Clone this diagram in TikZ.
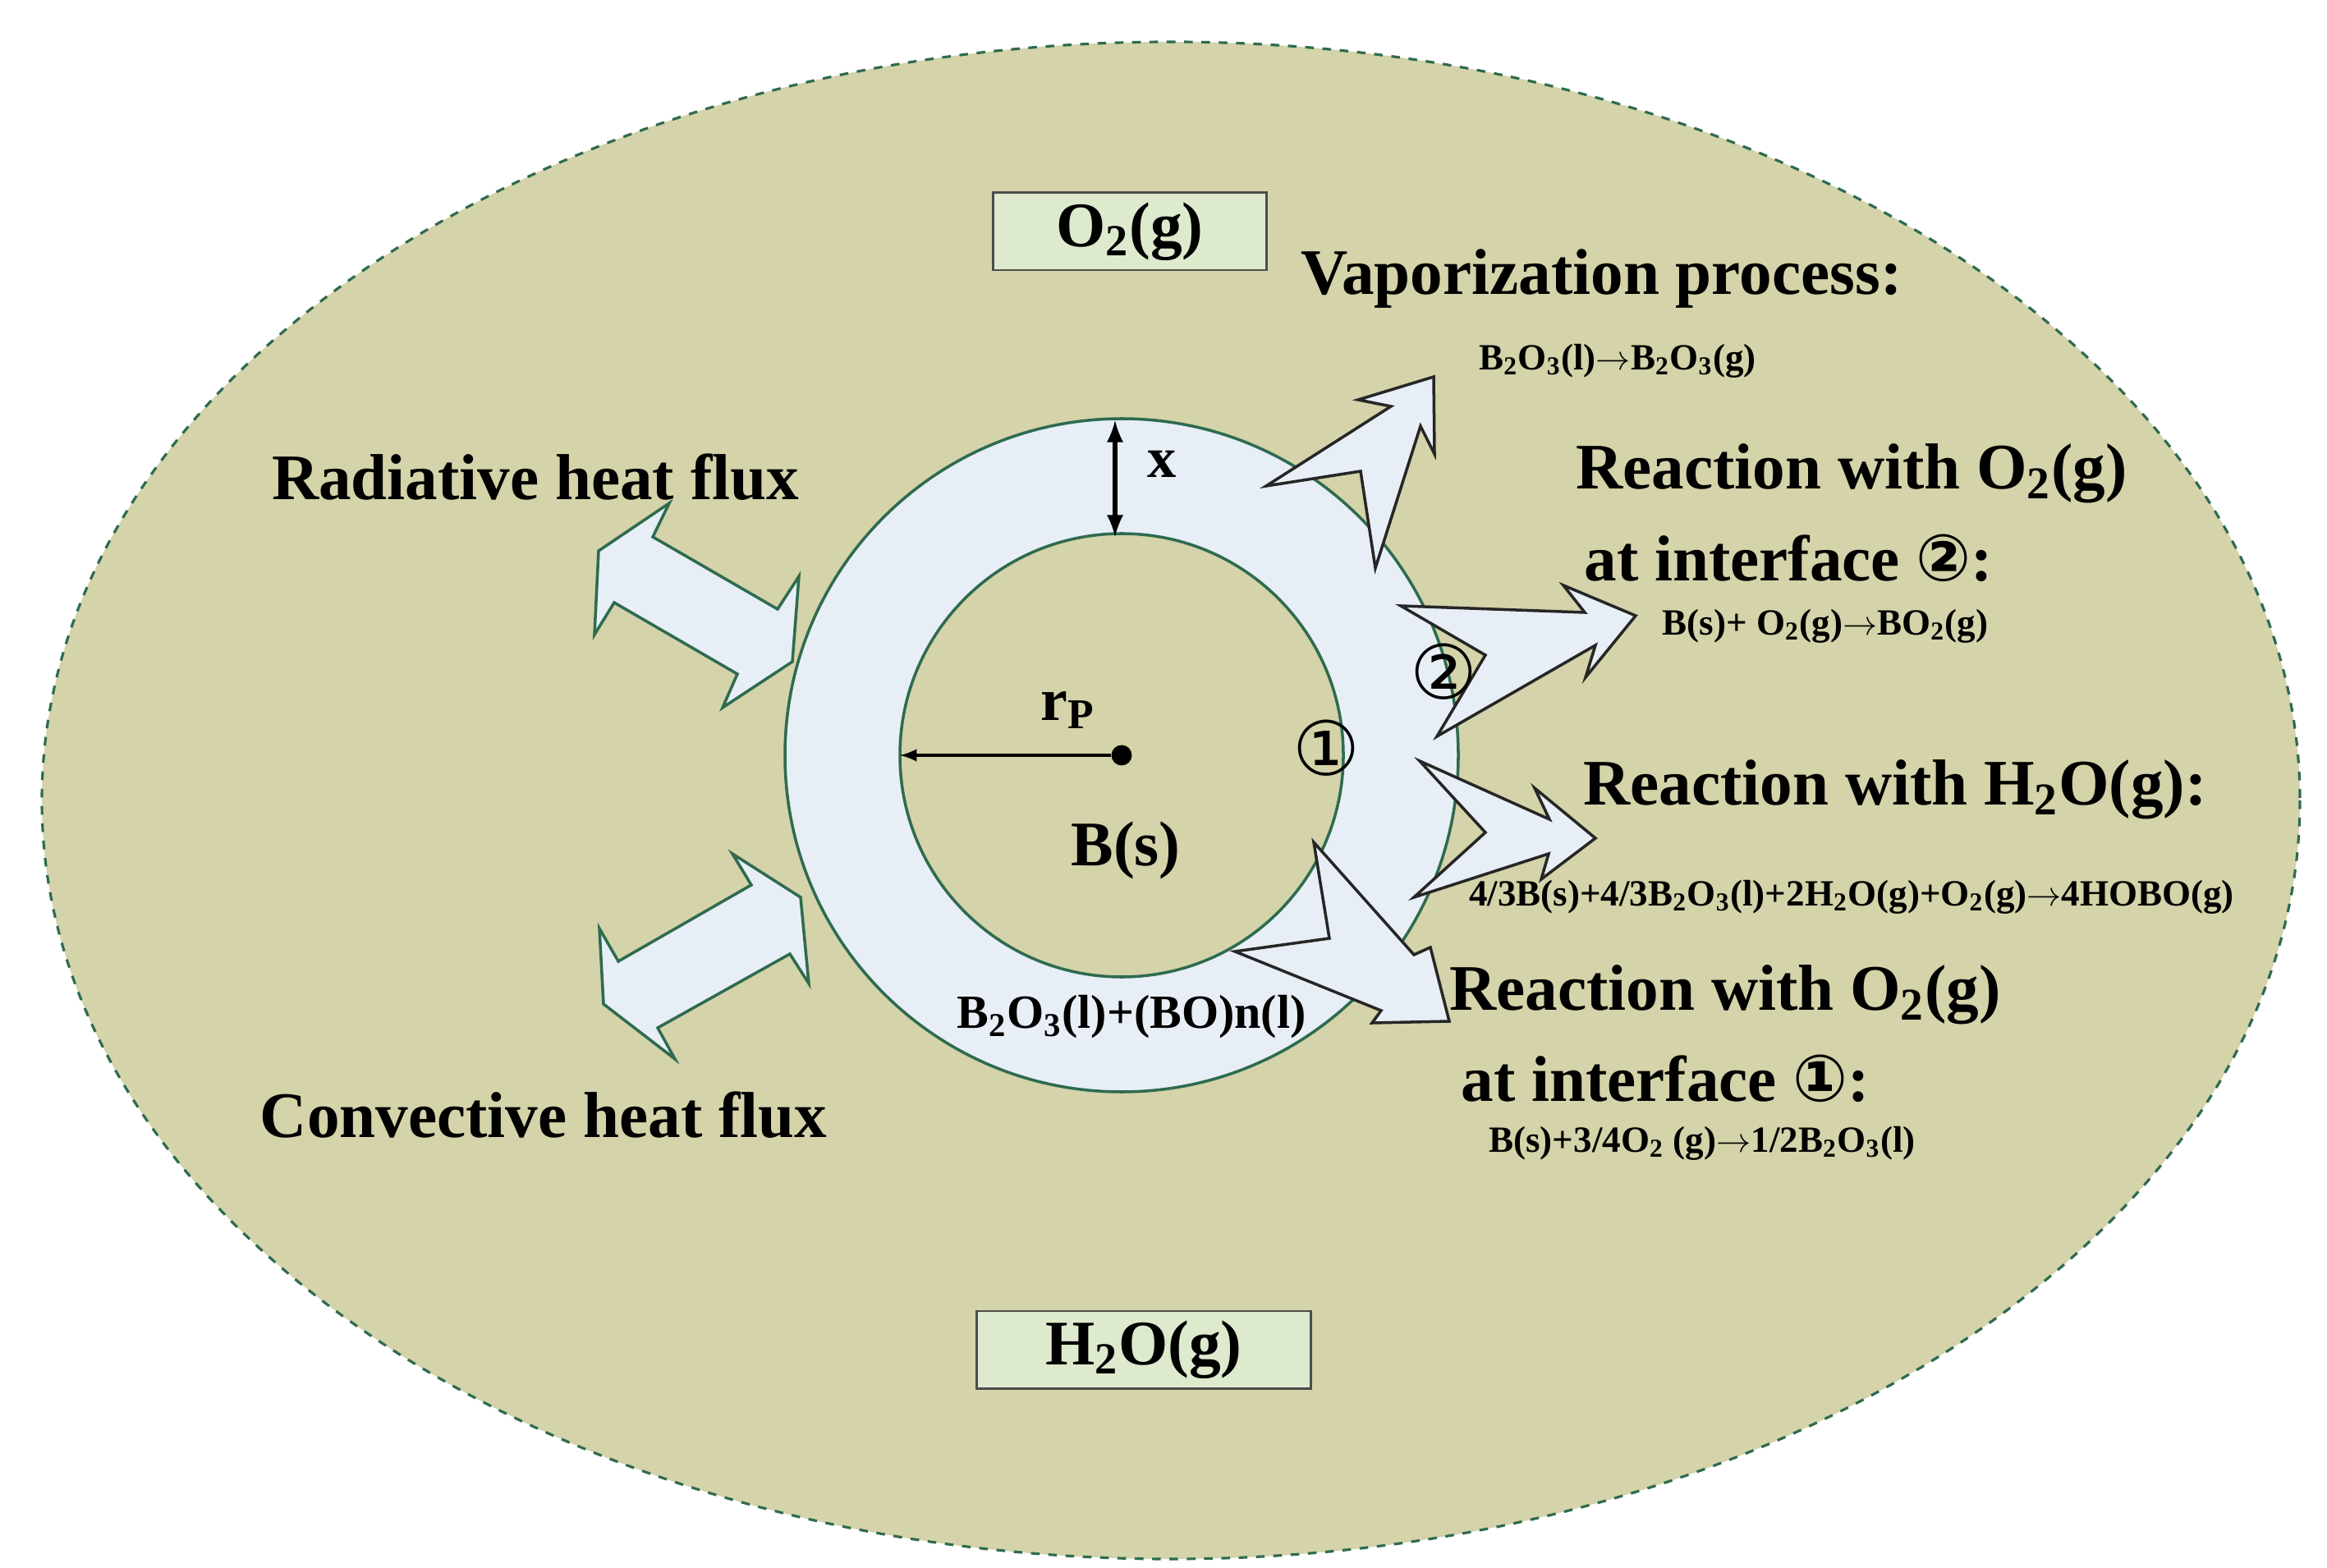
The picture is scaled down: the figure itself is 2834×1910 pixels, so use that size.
\documentclass[tikz,border=0pt]{standalone}
\usepackage{fontspec}
\setmainfont{Liberation Serif}
\newfontfamily\djv{DejaVu Sans}
\newcommand{\su}[1]{\textsubscript{#1}}
\newcommand{\cone}{{\djv\char"2460}}
\newcommand{\ctwo}{{\djv\char"2461}}
\begin{document}
\begin{tikzpicture}[x=0.01cm,y=-0.01cm,
  big/.style={font=\fontsize{22.5}{26}\selectfont\bfseries},
  eq/.style={font=\fontsize{12.8}{15}\selectfont\bfseries},
  box/.style={draw=black!70,fill=boxg,line width=0.8pt,minimum width=333*0.01cm,minimum height=79*0.01cm,font=\fontsize{22}{26}\selectfont\bfseries},
  fat/.style={fill=ringb,draw=black!85,line width=1pt,line join=miter},
  fatg/.style={fill=ringb,draw=edgeg,line width=1pt,line join=miter}]
\definecolor{bgc}{HTML}{D4D3A9}
\definecolor{ringb}{HTML}{E8EEF6}
\definecolor{edgeg}{HTML}{2E6B4F}
\definecolor{boxg}{HTML}{DDEACD}
\useasboundingbox (0,0) rectangle (2834,1910);
\fill[white] (0,0) rectangle (2834,1910);
\draw[fill=bgc,draw=edgeg,dashed,line width=0.9pt] (1426,975) ellipse [x radius=1375,y radius=924];
% particle
\fill[ringb,draw=edgeg,line width=1pt] (1366,920) circle [radius=410];
\fill[bgc,draw=edgeg,line width=1pt] (1366,920) circle [radius=270];
\node[circle,fill=black,inner sep=2.5pt] (c) at (1366,920) {};
\coordinate (rl) at (1096,920);
\draw[-latex,line width=1pt] (c) -- (rl);
\node[font=\fontsize{21}{24}\selectfont\bfseries] (rp) at (1301,865) {r\su{P}};
\coordinate (xt) at (1358,512);
\coordinate (xb) at (1358,654);
\draw[latex-latex,line width=1.6pt] (xt) -- (xb);
\node[font=\fontsize{20}{24}\selectfont\bfseries] (xl) at (1415,565) {x};
\node[font=\fontsize{22}{26}\selectfont\bfseries] (bs) at (1371,1036) {B(s)};
\node[font=\fontsize{16.5}{19}\selectfont\bfseries] (lay) at (1378,1239) {B\su{2}O\su{3}(l)+(BO)n(l)};
% boxes
\node[box] (o2) at (1376,282) {O\su{2}(g)};
\node[box,minimum width=407*0.01cm,minimum height=92*0.01cm] (h2o) at (1393,1644) {H\su{2}O(g)};
% fat arrows right
\draw[fat] (1542,592)--(1694,495)--(1654,487)--(1746,459)--(1747,553)--(1730,519)--(1675,692)--(1657,574)--cycle;
\draw[fat] (1706,738)--(1930,746)--(1904,713)--(1992,750)--(1931,825)--(1943,786)--(1750,897)--(1809,798)--cycle;
\draw[fat] (1729,927)--(1887,998)--(1869,960)--(1943,1021)--(1877,1071)--(1886,1040)--(1722,1093)--(1809,1014)--cycle;
\draw[fat] (1600,1026)--(1722,1163)--(1742,1154)--(1765,1244)--(1671,1246)--(1682,1231)--(1504,1159)--(1619,1143)--cycle;
% fat arrows left
\draw[fatg] (815,613)--(795,654)--(947,742)--(973,702)--(965,806)--(880,862)--(898,821)--(748,734)--(724,773)--(729,671)--cycle;
\draw[fatg] (892,1040)--(915,1078)--(753,1171)--(730,1131)--(735,1223)--(822,1290)--(801,1252)--(962,1162)--(985,1198)--(975,1093)--cycle;
% circled numbers
\node[font=\fontsize{26}{30}\selectfont] (n1) at (1615,911) {\cone};
\node[font=\fontsize{26}{30}\selectfont] (n2) at (1758,818) {\ctwo};
% texts
\node[big] (rad) at (652,581) {Radiative heat flux};
\node[big] (con) at (662,1358) {Convective heat flux};
\node[big,anchor=west] (vap) at (1572,339) {Vaporization process:};
\node[eq] (e1) at (1970,440) {B\su{2}O\su{3}(l)$\to$B\su{2}O\su{3}(g)};
\node[big,anchor=west] (r2a) at (1907,577) {Reaction with O\su{2}(g)};
\node[big,anchor=west] (r2b) at (1917,680) {at interface \ctwo:};
\node[eq] (e2) at (2223,763) {B(s)+ O\su{2}(g)$\to$BO\su{2}(g)};
\node[big,anchor=west] (rh) at (1916,962) {Reaction with H\su{2}O(g):};
\node[eq] (e3) at (2255,1093) {4/3B(s)+4/3B\su{2}O\su{3}(l)+2H\su{2}O(g)+O\su{2}(g)$\to$4HOBO(g)};
\node[big,anchor=west] (r1a) at (1753,1212) {Reaction with O\su{2}(g)};
\node[big,anchor=west] (r1b) at (1767,1314) {at interface \cone:};
\node[eq] (e4) at (2073,1393) {B(s)+3/4O\su{2} (g)$\to$1/2B\su{2}O\su{3}(l)};
\end{tikzpicture}
\end{document}
